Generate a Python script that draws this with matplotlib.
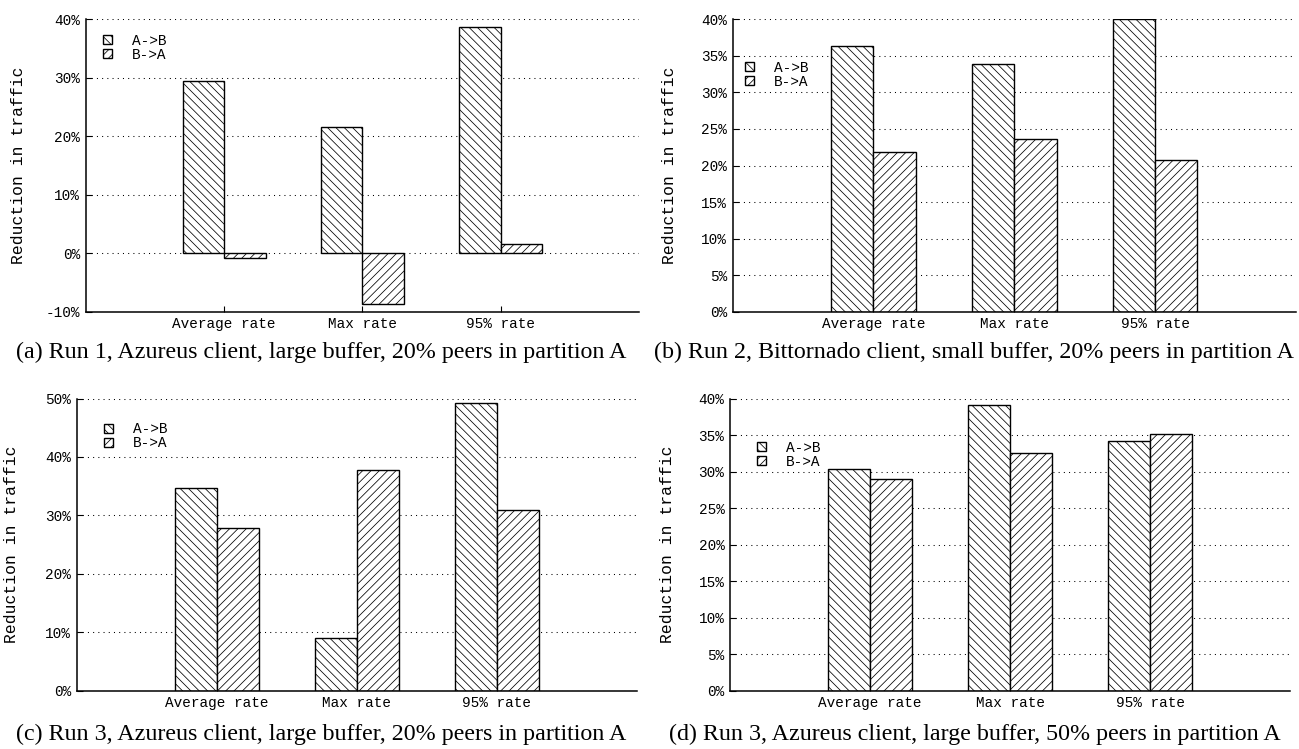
import matplotlib
matplotlib.use("Agg")
import matplotlib.pyplot as plt
import numpy as np

W, H = 1299, 749

categories = ['Average rate', 'Max rate', '95% rate']
series_labels = ['A->B', 'B->A']

a_ab = [29.5, 21.5, 38.6]
a_ba = [-0.75, -8.7, 1.5]
b_ab = [36.3, 33.9, 40.0]
b_ba = [21.9, 23.6, 20.7]
c_ab = [34.6, 9.1, 49.2]
c_ba = [27.8, 37.8, 30.9]
d_ab = [30.3, 39.1, 34.15]
d_ba = [29.0, 32.5, 35.2]

a_ticks = [-10, 0, 10, 20, 30, 40]
b_ticks = [0, 5, 10, 15, 20, 25, 30, 35, 40]
c_ticks = [0, 10, 20, 30, 40, 50]
d_ticks = [0, 5, 10, 15, 20, 25, 30, 35, 40]

captions = [
    "(a) Run 1, Azureus client, large buffer, 20% peers in partition A",
    "(b) Run 2, Bittornado client, small buffer, 20% peers in partition A",
    "(c) Run 3, Azureus client, large buffer, 20% peers in partition A",
    "(d) Run 3, Azureus client, large buffer, 50% peers in partition A",
]

plt.rcParams['hatch.linewidth'] = 0.55
plt.rcParams['hatch.color'] = 'black'
MONO = 'Liberation Mono'
SERIF = 'Liberation Serif'

fig = plt.figure(figsize=(W / 100, H / 100), dpi=100)

# pixel boxes: left, right, top, bottom
panels = [
    dict(box=(85.7, 639, 19.3, 311.7), ab=a_ab, ba=a_ba, ticks=a_ticks,
         leg=(103.3, 48.0), ylab=19, cap=(321, 352)),
    dict(box=(732.5, 1296, 19.3, 311.7), ab=b_ab, ba=b_ba, ticks=b_ticks,
         leg=(745.0, 75.0), ylab=670, cap=(974, 352)),
    dict(box=(76.7, 636.7, 398.5, 690.7), ab=c_ab, ba=c_ba, ticks=c_ticks,
         leg=(104.0, 436.3), ylab=12, cap=(321, 734)),
    dict(box=(730, 1290, 398.5, 690.7), ab=d_ab, ba=d_ba, ticks=d_ticks,
         leg=(757.3, 455.0), ylab=667, cap=(975, 734)),
]

x = np.arange(1, len(categories) + 1)
bw = 0.3

for p, caption in zip(panels, captions):
    L, R, T, B = p['box']
    ax = fig.add_axes([L / W, 1 - B / H, (R - L) / W, (B - T) / H])
    ax.set_axisbelow(True)
    b1 = ax.bar(x - bw / 2, p['ab'], width=bw, facecolor='white', edgecolor='black',
                linewidth=1.0, hatch='\\\\\\\\', label=series_labels[0], zorder=2)
    b2 = ax.bar(x + bw / 2, p['ba'], width=bw, facecolor='white', edgecolor='black',
                linewidth=1.0, hatch='////', label=series_labels[1], zorder=2)
    ax.set_xlim(0, 4)
    ax.set_ylim(p['ticks'][0], p['ticks'][-1])
    ax.set_yticks(p['ticks'])
    ax.set_yticklabels([f"{t}%" for t in p['ticks']], fontfamily=MONO, fontsize=10.4)
    ax.set_xticks(x)
    ax.set_xticklabels(categories, fontfamily=MONO, fontsize=10.4)
    ax.tick_params(axis='both', direction='in', length=4.5, width=0.8, pad=4)
    ax.grid(axis='y', color='black', linewidth=0.75, linestyle=(0, (1, 4)))
    for s in ['top', 'right']:
        ax.spines[s].set_visible(False)
    for s in ['left', 'bottom']:
        ax.spines[s].set_linewidth(1.1)
    ax.set_ylabel('Reduction in traffic', fontfamily=MONO, fontsize=11.8, va='center')
    ax.yaxis.set_label_coords(p['ylab'] / W, 1 - ((T + B) / 2) / H, transform=fig.transFigure)
    lx, ly = p['leg']
    ax.legend(handles=[b1, b2], labels=series_labels, loc='center left',
              bbox_to_anchor=(lx / W, 1 - ly / H), bbox_transform=fig.transFigure,
              frameon=False, borderpad=0, borderaxespad=0, handlelength=0.6,
              handleheight=0.6, handletextpad=1.4, labelspacing=0.0,
              prop={'family': MONO, 'size': 10.4})
    fig.text(p['cap'][0] / W, 1 - p['cap'][1] / H, caption, ha='center', va='center',
             fontfamily=SERIF, fontsize=17.3)

fig.savefig('out.png', dpi=100)
